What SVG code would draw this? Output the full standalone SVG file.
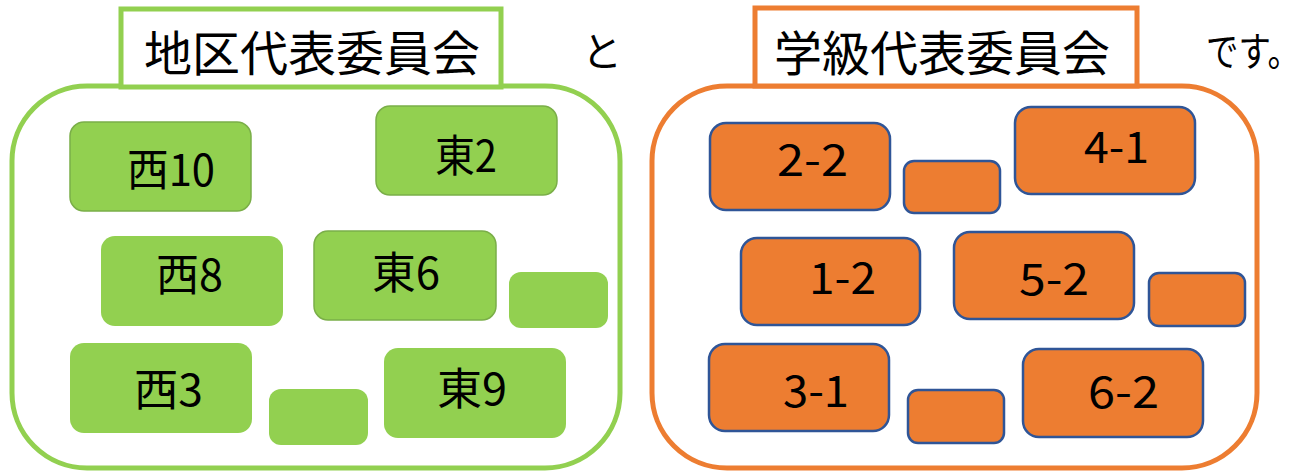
<svg xmlns="http://www.w3.org/2000/svg" width="1309" height="473" viewBox="0 0 1309 473">
<style>
text{font-family:"Noto Sans CJK JP","Noto Sans",sans-serif;fill:#000}
.big{fill:#fff;stroke-width:5}
.g{stroke:#92D050}
.o{stroke:#ED7D31}
.title{fill:#fff;stroke-width:5}
.gn{fill:#92D050}
.gb{stroke:#7AAE48;stroke-width:1.5}
.on{fill:#ED7D31;stroke:#2F5597;stroke-width:2.5}
.tt{font-size:48px}
.pt{font-size:40px}
.gl{font-size:44px}
.ol{font-size:44px}
</style>
<g id="district-group">
<rect class="big g" x="12" y="86" width="608" height="382" rx="75"/>
<rect class="title g" x="121" y="9" width="380" height="78"/>
<text class="tt" x="144" y="71">地区代表委員会</text>
</g>
<g id="class-group">
<rect class="big o" x="652" y="86" width="605" height="382" rx="75"/>
<rect class="title o" x="755" y="8" width="382" height="78"/>
<text class="tt" x="774" y="71">学級代表委員会</text>
</g>
<text class="pt" x="582" y="66">と</text>
<text class="pt" x="1206" y="66" textLength="94" lengthAdjust="spacingAndGlyphs">です。</text>
<g id="connectors"></g>
<g id="n-nishi10"><rect class="gn gb" x="70" y="122" width="181" height="89" rx="14"/><text class="gl" x="127" y="186" textLength="88" lengthAdjust="spacingAndGlyphs">西10</text></g>
<g id="n-higashi2"><rect class="gn gb" x="376" y="106" width="181" height="89" rx="14"/><text class="gl" x="435" y="172" textLength="62" lengthAdjust="spacingAndGlyphs">東2</text></g>
<g id="n-nishi8"><rect class="gn" x="101" y="236" width="182" height="90" rx="14"/><text class="gl" x="156" y="291" textLength="67" lengthAdjust="spacingAndGlyphs">西8</text></g>
<g id="n-higashi6"><rect class="gn gb" x="314" y="231" width="182" height="89" rx="14"/><text class="gl" x="372" y="289" textLength="68" lengthAdjust="spacingAndGlyphs">東6</text></g>
<g id="n-g-small1"><rect class="gn" x="509" y="272" width="99" height="56" rx="12"/></g>
<g id="n-nishi3"><rect class="gn" x="70" y="343" width="182" height="90" rx="14"/><text class="gl" x="134" y="406" textLength="69" lengthAdjust="spacingAndGlyphs">西3</text></g>
<g id="n-g-small2"><rect class="gn" x="269" y="389" width="99" height="56" rx="12"/></g>
<g id="n-higashi9"><rect class="gn" x="384" y="348" width="182" height="90" rx="14"/><text class="gl" x="437" y="405" textLength="70" lengthAdjust="spacingAndGlyphs">東9</text></g>
<g id="n-2-2"><rect class="on" x="710" y="123" width="180" height="87" rx="16"/><text class="ol" x="777" y="176" textLength="71" lengthAdjust="spacingAndGlyphs">2-2</text></g>
<g id="n-o-small1"><rect class="on" x="904" y="161" width="96" height="52" rx="10"/></g>
<g id="n-4-1"><rect class="on" x="1015" y="107" width="180" height="87" rx="16"/><text class="ol" x="1084" y="163" textLength="65" lengthAdjust="spacingAndGlyphs">4-1</text></g>
<g id="n-1-2"><rect class="on" x="741" y="238" width="179" height="87" rx="16"/><text class="ol" x="809" y="294" textLength="67" lengthAdjust="spacingAndGlyphs">1-2</text></g>
<g id="n-5-2"><rect class="on" x="954" y="232" width="180" height="87" rx="16"/><text class="ol" x="1019" y="295" textLength="70" lengthAdjust="spacingAndGlyphs">5-2</text></g>
<g id="n-o-small2"><rect class="on" x="1149" y="273" width="96" height="53" rx="10"/></g>
<g id="n-3-1"><rect class="on" x="709" y="344" width="180" height="87" rx="16"/><text class="ol" x="783" y="407" textLength="66" lengthAdjust="spacingAndGlyphs">3-1</text></g>
<g id="n-o-small3"><rect class="on" x="908" y="390" width="96" height="53" rx="10"/></g>
<g id="n-6-2"><rect class="on" x="1023" y="349" width="180" height="88" rx="16"/><text class="ol" x="1088" y="408" textLength="71" lengthAdjust="spacingAndGlyphs">6-2</text></g>
</svg>
